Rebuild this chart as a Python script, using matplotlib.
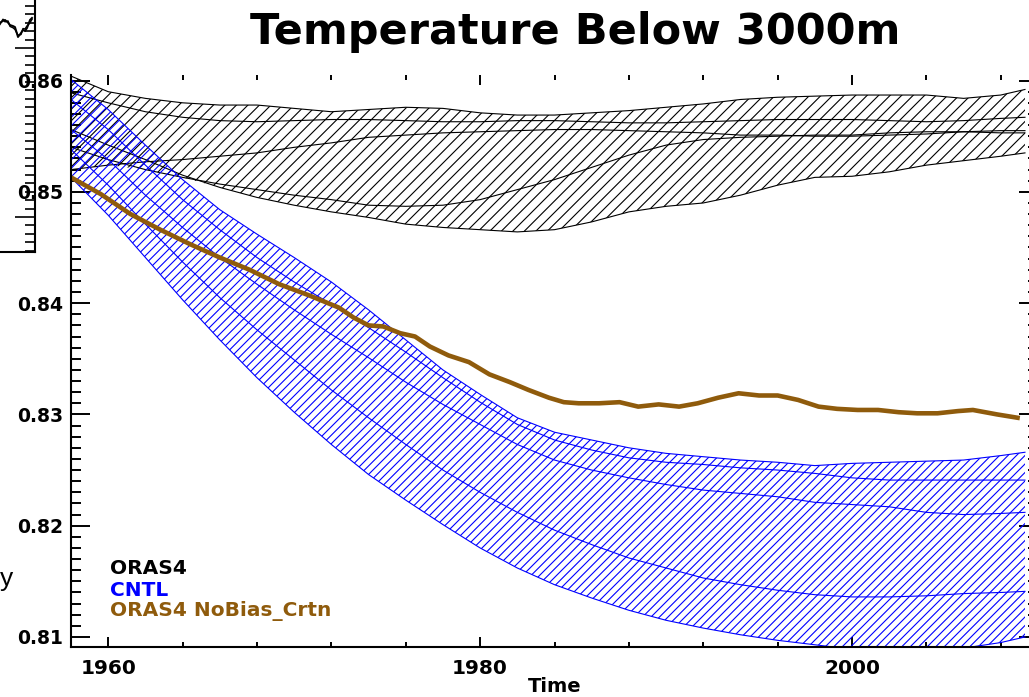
import numpy as np
import matplotlib
matplotlib.use('Agg')
import matplotlib.pyplot as plt
from matplotlib.collections import LineCollection
from matplotlib.transforms import IdentityTransform
from matplotlib.ticker import MultipleLocator, FormatStrFormatter

# ---- data ----
years = [1958, 1960, 1962, 1964, 1966, 1968, 1970, 1972, 1974, 1976, 1978, 1980, 1982, 1984,
         1986, 1988, 1990, 1992, 1994, 1996, 1998, 2000, 2002, 2004, 2006, 2008, 2009.3]

# ORAS4 ensemble members (black)
oras4_m1 = [0.8604, 0.8590, 0.8584, 0.8580, 0.8578, 0.8578, 0.8575, 0.8572, 0.8574, 0.8576, 0.8575, 0.8571, 0.8569, 0.8569,
            0.8571, 0.8573, 0.8576, 0.8579, 0.8583, 0.8585, 0.8586, 0.8587, 0.8587, 0.8587, 0.8584, 0.8587, 0.8592]
oras4_m2 = [0.8589, 0.8580, 0.8572, 0.8567, 0.8564, 0.8563, 0.8564, 0.8565, 0.8565, 0.8564, 0.8563, 0.8563, 0.8564, 0.8564,
            0.8563, 0.8562, 0.8562, 0.8563, 0.8564, 0.8565, 0.8565, 0.8565, 0.8564, 0.8563, 0.8564, 0.8566, 0.8567]
oras4_m3 = [0.8520, 0.8524, 0.8527, 0.8529, 0.8532, 0.8535, 0.8540, 0.8544, 0.8549, 0.8551, 0.8553, 0.8554, 0.8555, 0.8556,
            0.8556, 0.8555, 0.8554, 0.8553, 0.8551, 0.8551, 0.8550, 0.8550, 0.8551, 0.8552, 0.8554, 0.8555, 0.8555]
oras4_m4 = [0.8540, 0.8529, 0.8520, 0.8513, 0.8507, 0.8502, 0.8497, 0.8493, 0.8488, 0.8487, 0.8488, 0.8493, 0.8502, 0.8511,
            0.8522, 0.8533, 0.8542, 0.8547, 0.8549, 0.8550, 0.8551, 0.8551, 0.8553, 0.8554, 0.8554, 0.8553, 0.8553]
oras4_m5 = [0.8556, 0.8542, 0.8529, 0.8515, 0.8504, 0.8495, 0.8488, 0.8482, 0.8477, 0.8471, 0.8468, 0.8466, 0.8464, 0.8466,
            0.8473, 0.8482, 0.8487, 0.8490, 0.8497, 0.8506, 0.8513, 0.8514, 0.8518, 0.8524, 0.8528, 0.8532, 0.8535]

# CNTL ensemble members (blue)
cntl_m1 = [0.8601, 0.8574, 0.8542, 0.8511, 0.8484, 0.8462, 0.8441, 0.8419, 0.8394, 0.8367, 0.8340, 0.8318, 0.8297, 0.8284,
           0.8277, 0.8270, 0.8265, 0.8262, 0.8259, 0.8257, 0.8254, 0.8256, 0.8257, 0.8258, 0.8259, 0.8263, 0.8266]
cntl_m2 = [0.8583, 0.8556, 0.8524, 0.8493, 0.8466, 0.8441, 0.8419, 0.8399, 0.8378, 0.8356, 0.8333, 0.8311, 0.8291, 0.8277,
           0.8268, 0.8261, 0.8257, 0.8255, 0.8252, 0.8250, 0.8247, 0.8243, 0.8241, 0.8241, 0.8241, 0.8241, 0.8241]
cntl_m3 = [0.8556, 0.8529, 0.8497, 0.8468, 0.8441, 0.8417, 0.8394, 0.8372, 0.8351, 0.8329, 0.8309, 0.8291, 0.8273, 0.8259,
           0.8250, 0.8243, 0.8237, 0.8232, 0.8229, 0.8226, 0.8221, 0.8219, 0.8217, 0.8212, 0.8210, 0.8211, 0.8212]
cntl_m4 = [0.8538, 0.8506, 0.8471, 0.8437, 0.8405, 0.8376, 0.8349, 0.8322, 0.8297, 0.8273, 0.8250, 0.8230, 0.8212, 0.8196,
           0.8183, 0.8171, 0.8162, 0.8153, 0.8147, 0.8142, 0.8138, 0.8136, 0.8136, 0.8137, 0.8139, 0.8140, 0.8141]
cntl_m5 = [0.8513, 0.8479, 0.8441, 0.8403, 0.8367, 0.8333, 0.8302, 0.8273, 0.8246, 0.8223, 0.8201, 0.8180, 0.8162, 0.8147,
           0.8135, 0.8124, 0.8115, 0.8108, 0.8102, 0.8097, 0.8093, 0.8089, 0.8088, 0.8088, 0.8090, 0.8095, 0.8100]

# ORAS4 NoBias_Crtn (brown)
nobias_years = [1958.0, 1959.6, 1961.2, 1962.8, 1964.4, 1966.0, 1967.6, 1969.2, 1970.8, 1972.4, 1973.2, 1974.0,
                1974.8, 1975.7, 1976.5, 1977.3, 1978.3, 1979.4, 1980.5, 1981.6, 1982.6, 1983.7, 1984.5, 1985.3,
                1986.4, 1987.5, 1988.5, 1989.6, 1990.7, 1991.7, 1992.8, 1993.9, 1995.0, 1996.0, 1997.1, 1998.2,
                1999.2, 2000.3, 2001.4, 2002.5, 2003.5, 2004.6, 2005.7, 2006.5, 2007.8, 2008.9]
nobias_vals = [0.8513, 0.8498, 0.8480, 0.8466, 0.8453, 0.8441, 0.8430, 0.8417, 0.8407, 0.8396, 0.8387, 0.8380,
               0.8379, 0.8373, 0.8370, 0.8361, 0.8353, 0.8347, 0.8336, 0.8329, 0.8322, 0.8315, 0.8311, 0.8310,
               0.8310, 0.8311, 0.8307, 0.8309, 0.8307, 0.8310, 0.8315, 0.8319, 0.8317, 0.8317, 0.8313, 0.8307,
               0.8305, 0.8304, 0.8304, 0.8302, 0.8301, 0.8301, 0.8303, 0.8304, 0.8300, 0.8297]

# partial neighbouring panel in the top-left corner
side_x = [0, 3, 5, 8, 10, 13, 15, 18, 21, 23, 25, 27, 30, 32]
side_a = [1.150, 1.160, 1.166, 1.150, 1.136, 1.130, 1.124, 1.065, 1.089, 1.107, 1.100, 1.118, 1.166, 1.178]
side_b = [1.140, 1.170, 1.155, 1.160, 1.128, 1.120, 1.110, 1.075, 1.080, 1.115, 1.112, 1.130, 1.150, 1.170]

legend_labels = ['ORAS4', 'CNTL', 'ORAS4 NoBias_Crtn']

BLUE = '#0000ff'
BROWN = '#8f5b0c'
BOLD = dict(family='DejaVu Sans', weight='bold')

W, H = 1029, 697
fig = plt.figure(figsize=(W / 100, H / 100), dpi=100)

# cropped neighbour panel at top-left (drawn first, transparent, so labels sit on top)
axs = fig.add_axes([0, 1 - 252 / H, 35 / W, 252 / H], zorder=0)
axs.patch.set_visible(False)
axs.set_xlim(0, 35)
axs.set_ylim(-0.207, 1.284)
axs.plot(side_x, side_a, color='black', lw=1.4)
axs.plot(side_x, side_b, color='black', lw=1.1)
axs.spines['left'].set_visible(False)
axs.spines['top'].set_visible(False)
axs.spines['right'].set_linewidth(1.5)
axs.spines['bottom'].set_linewidth(1.5)
axs.set_xticks([])
axs.yaxis.tick_right()
axs.yaxis.set_major_locator(MultipleLocator(1))
axs.yaxis.set_minor_locator(MultipleLocator(0.05))
axs.tick_params(axis='y', which='both', direction='in', labelright=False, width=1.2)
axs.tick_params(axis='y', which='major', length=14.4)
axs.tick_params(axis='y', which='minor', length=7.2)

ax = fig.add_axes([71 / W, 1 - 647 / H, 967 / W, 572 / H], zorder=1)
ax.set_xlim(1958, 2010)
ax.set_ylim(0.8091, 0.8605)


def hatch_band(ax, x, members, color, step):
    """hatched envelope of an ensemble, plus each member as a thin line"""
    lo = np.min(members, axis=0)
    hi = np.max(members, axis=0)
    poly = ax.fill_between(x, lo, hi, facecolor='none', edgecolor='none')
    bb = ax.bbox
    offs = np.arange(-bb.height, bb.width, step)
    segs = [[(bb.x0 + o, bb.y0), (bb.x0 + o + bb.height, bb.y1)] for o in offs]
    lc = LineCollection(segs, colors=color, linewidths=0.8, transform=IdentityTransform())
    lc.set_clip_box(ax.bbox)
    lc.set_clip_path(poly.get_paths()[0], ax.transData)
    ax.add_collection(lc, autolim=False)
    for m in members:
        ax.plot(x, m, color=color, lw=0.8)


hatch_band(ax, years, [oras4_m1, oras4_m2, oras4_m3, oras4_m4, oras4_m5], 'black', 11.5)
hatch_band(ax, years, [cntl_m1, cntl_m2, cntl_m3, cntl_m4, cntl_m5], BLUE, 8.5)
ax.plot(nobias_years, nobias_vals, color=BROWN, lw=3.3)

# axes styling (IDL-like box, ticks inward)
ax.spines['top'].set_visible(False)
for s in ['left', 'bottom', 'right']:
    ax.spines[s].set_linewidth(1.5)
ax.xaxis.set_major_locator(MultipleLocator(20))
ax.xaxis.set_minor_locator(MultipleLocator(4))
ax.yaxis.set_major_locator(MultipleLocator(0.01))
ax.yaxis.set_minor_locator(MultipleLocator(0.001))
ax.yaxis.set_major_formatter(FormatStrFormatter('%.2f'))
ax.tick_params(axis='x', which='both', direction='in', top=True, bottom=True, width=1.4, pad=8.5)
ax.tick_params(axis='x', which='major', length=7.2)
ax.tick_params(axis='x', which='minor', length=3.6)
ax.tick_params(axis='y', which='both', direction='in', left=True, right=True, width=1.4, pad=5.5)
ax.tick_params(axis='y', which='major', length=13.7)
ax.tick_params(axis='y', which='minor', length=7.2)
for lab in ax.get_xticklabels():
    lab.set_fontsize(14.5)
    lab.set_fontweight('bold')
for lab in ax.get_yticklabels():
    lab.set_fontsize(13.5)
    lab.set_fontweight('bold')

# legend as coloured text
for i, (lab, col) in enumerate(zip(legend_labels, ['black', BLUE, BROWN])):
    fig.text(110 / W, 1 - (569 + 21 * i) / H, lab, color=col, fontsize=14.5, va='center', ha='left', **BOLD)

fig.text(575 / W, 1 - 32 / H, 'Temperature Below 3000m', fontsize=31, ha='center', va='center', **BOLD)
fig.text(555 / W, 1 - 687 / H, 'Time', fontsize=14, ha='center', va='center', **BOLD)
fig.text(0, 1 - 586 / H, 'y', fontsize=19, ha='left', va='baseline', family='Liberation Sans')

fig.savefig('out.png', dpi=100)
